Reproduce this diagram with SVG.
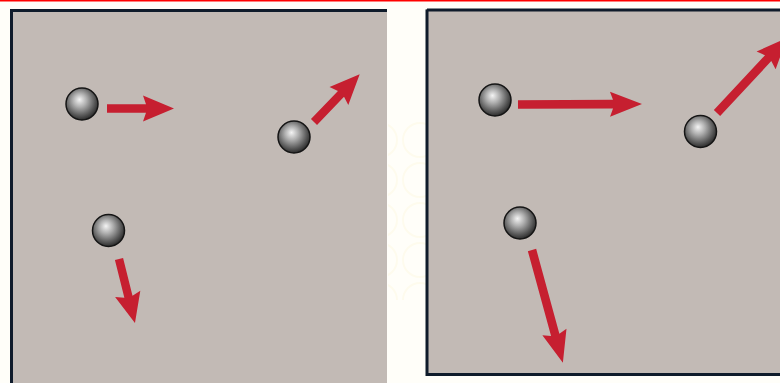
<svg xmlns="http://www.w3.org/2000/svg" width="780" height="383" viewBox="0 0 780 383">
  <defs>
    <radialGradient id="ballShade" cx="0.45" cy="0.42" r="0.6" fx="0.42" fy="0.36">
      <stop offset="0" stop-color="#f4f4f4"/>
      <stop offset="0.35" stop-color="#b0b0b0"/>
      <stop offset="0.75" stop-color="#5a5a5a"/>
      <stop offset="1" stop-color="#262626"/>
    </radialGradient>
    <pattern id="lace" x="0" y="0" width="40" height="40" patternUnits="userSpaceOnUse">
      <circle cx="20" cy="20" r="17" fill="none" stroke="#fbf6d8" stroke-width="2"/>
    </pattern>
  </defs>
  <style>
    .panel { fill: #c2bab5; }
    .frame { fill: none; stroke: #0f1b2b; stroke-width: 3; }
    .ball { fill: url(#ballShade); stroke: #151515; stroke-width: 1.5; }
    .arrow { fill: #c61f30; }
  </style>

  <!-- page background -->
  <rect x="0" y="0" width="780" height="383" fill="#fffef9"/>
  <rect x="388" y="120" width="38" height="180" fill="url(#lace)" opacity="0.35"/>
  <rect x="0" y="0" width="780" height="1.5" fill="#ff0000"/>

  <!-- left panel -->
  <g id="panel-left">
    <rect class="panel" x="10" y="9" width="377" height="380"/>
    <path class="frame" d="M11.5 389 V10.5 H387"/>
  </g>

  <!-- right panel -->
  <g id="panel-right">
    <rect class="panel" x="426" y="9" width="360" height="367"/>
    <path class="frame" d="M427 9.5 V374.5 H782" stroke-width="2.5"/>
    <path class="frame" d="M427 10 H782" stroke-width="2"/>
  </g>

  <!-- particles -->
  <g id="ball-l1"><circle class="ball" cx="82" cy="104" r="16"/></g>
  <g id="ball-l2"><circle class="ball" cx="294" cy="137" r="16"/></g>
  <g id="ball-l3"><circle class="ball" cx="108.5" cy="230.5" r="16"/></g>
  <g id="ball-r1"><circle class="ball" cx="495" cy="100" r="16"/></g>
  <g id="ball-r2"><circle class="ball" cx="700.5" cy="131.5" r="16"/></g>
  <g id="ball-r3"><circle class="ball" cx="520" cy="223" r="16"/></g>

  <!-- velocity arrows -->
  <g id="connectors">
    <polygon class="arrow" transform="translate(107 108.5)" points="0,-4.2 39,-4.2 36,-13 67,0 36,13 39,4.2 0,4.2"/>
    <polygon class="arrow" transform="translate(314 122) rotate(-46.2)" points="0,-4.2 39,-4.2 36,-13 66,0 36,13 39,4.2 0,4.2"/>
    <polygon class="arrow" transform="translate(119 259) rotate(76)" points="0,-4.2 39,-4.2 36,-13 66,0 36,13 39,4.2 0,4.2"/>
    <polygon class="arrow" transform="translate(518 104.5) rotate(-0.2)" points="0,-4.3 95,-4.3 92,-12.5 124,0 92,12.5 95,4.3 0,4.3"/>
    <polygon class="arrow" transform="translate(717 113) rotate(-47)" points="0,-4.3 75,-4.3 72,-13 103,0 72,13 75,4.3 0,4.3"/>
    <polygon class="arrow" transform="translate(532 250) rotate(74.7)" points="0,-4.3 88,-4.3 85,-12.5 117,0 85,12.5 88,4.3 0,4.3"/>
  </g>
</svg>
